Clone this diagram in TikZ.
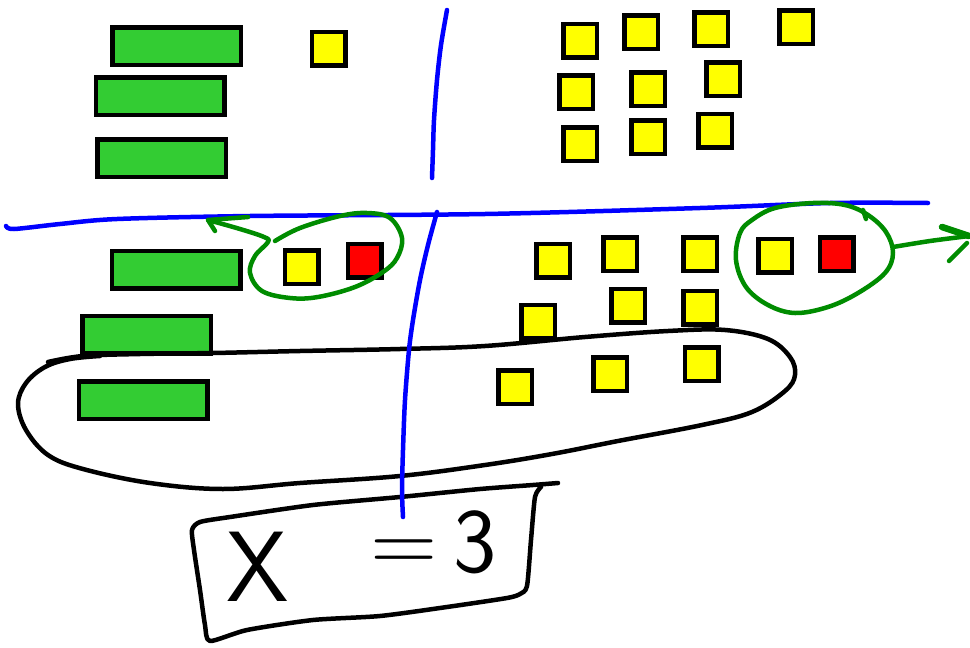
\documentclass[tikz,border=0pt]{standalone}
\definecolor{barfill}{RGB}{51,204,51}
\definecolor{sqyellow}{RGB}{255,255,0}
\definecolor{sqred}{RGB}{255,0,0}
\definecolor{penblue}{RGB}{0,0,255}
\definecolor{pengreen}{RGB}{0,140,0}
\tikzset{
  bar/.style={draw=black, line width=4.5pt, fill=barfill, minimum width=128.5pt, minimum height=37.5pt, inner sep=0pt},
  ysq/.style={draw=black, line width=4.5pt, fill=sqyellow, minimum width=33.5pt, minimum height=33.5pt, inner sep=0pt},
  rsq/.style={ysq, fill=sqred},
  bluepen/.style={penblue, line width=4.5pt, line cap=round, line join=round},
  greenpen/.style={pengreen, line width=4.5pt, line cap=round, line join=round},
  blackpen/.style={black, line width=4.5pt, line cap=round, line join=round},
}
\begin{document}
\begin{tikzpicture}[x=1pt,y=-1pt]
\useasboundingbox[fill=white] (0,0) rectangle (970,648);
% green bars
\node[bar] (g1) at (176.5,46) {};
\node[bar] (g2) at (160,96) {};
\node[bar] (g3) at (161.5,158) {};
\node[bar] (g4) at (176,269.5) {};
\node[bar] (g5) at (146.5,334.5) {};
\node[bar] (g6) at (143,400) {};
% top-left square
\node[ysq] (y0) at (328.5,48.5) {};
% top-right squares
\node[ysq] (t1) at (580,40.5) {};
\node[ysq] (t2) at (641,32) {};
\node[ysq] (t3) at (711,29) {};
\node[ysq] (t4) at (796,27) {};
\node[ysq] (t5) at (576,92) {};
\node[ysq] (t6) at (648,89) {};
\node[ysq] (t7) at (723,79) {};
\node[ysq] (t8) at (580,144) {};
\node[ysq] (t9) at (648,137) {};
\node[ysq] (t10) at (715,130.5) {};
% bottom-left squares
\node[ysq] (by) at (301.5,267) {};
\node[rsq] (br) at (364.5,260.5) {};
% bottom-right squares
\node[ysq] (r1) at (553,260.5) {};
\node[ysq] (r2) at (620,254) {};
\node[ysq] (r3) at (700,254) {};
\node[ysq] (r4) at (775,255.5) {};
\node[rsq] (r5) at (836.5,254) {};
\node[ysq] (r6) at (538,321.5) {};
\node[ysq] (r7) at (628,305.5) {};
\node[ysq] (r8) at (700,307.5) {};
\node[ysq] (r9) at (515,387) {};
\node[ysq] (r10) at (610,374) {};
\node[ysq] (r11) at (701.5,364) {};
% black loop
\draw[blackpen] plot[smooth, tension=0.6] coordinates {(48,362) (83,356) (140,354) (213,353) (300,351) (400,349) (485,346) (585,337) (668,331) (725,330) (768,339) (790,357) (795,375) (785,391) (752,412) (702,425) (618,441) (552,454) (485,465) (400,476) (300,483) (223,489) (150,483) (83,469) (48,455) (26,430) (18,404) (26,383) (45,367) (70,359) (100,356)};
% answer box
\draw[blackpen] plot[smooth, tension=0.4] coordinates {(558,483) (533,485) (480,489) (400,497) (313,505) (230,517) (200,522) (192,530) (194,550) (200,590) (205,625) (210,641) (247,630) (313,620) (380,616) (447,607) (507,598) (520,594) (527,586) (531,540) (535,497) (541,487)};
% blue lines
\draw[bluepen] plot[smooth, tension=0.5] coordinates {(6,226) (14,229) (60,224) (117,219) (250,216) (485,214) (700,208) (830,203) (928,203)};
\draw[bluepen] plot[smooth, tension=0.5] coordinates {(447,10) (441,45) (437,80) (434,120) (433,150) (432,178)};
\draw[bluepen] plot[smooth, tension=0.5] coordinates {(437,212) (428,245) (420,280) (413,320) (409,350) (405,400) (403,450) (402,490) (403,517)};
% green loops and arrows
\coordinate (lefttip) at (208,220);
\coordinate (righttip) at (969,236);
\draw[greenpen] plot[smooth, tension=0.6] coordinates {(275,241) (300,228) (340,216) (367,213) (390,218) (402,238) (397,258) (383,272) (355,287) (318,297) (290,298) (262,291) (250,273) (255,256) (268,242) (264,237) (240,229) (lefttip)};
\draw[greenpen] (248,217) -- (lefttip) -- (215,231);
\draw[greenpen] plot[smooth cycle, tension=0.6] coordinates {(813,203) (845,205) (868,215) (886,232) (893,253) (885,273) (858,293) (828,307) (795,313) (768,305) (746,287) (736,260) (740,233) (752,220) (775,208)};
\draw[greenpen] (863,210) -- (866,219);
\draw[greenpen] plot[smooth, tension=0.5] coordinates {(893,247) (930,241) (righttip)};
\draw[greenpen, line width=6.5pt] (942,227) -- (righttip);
\draw[greenpen] (949,261) -- (967,243);
% equation text
\node[anchor=base west, inner sep=0pt] (eq) at (226,601) {\sffamily\fontsize{100}{100}\selectfont X\hspace{82pt}\raisebox{29pt}{\fontsize{92}{92}\selectfont =\hspace{16pt}3}};
\end{tikzpicture}
\end{document}
